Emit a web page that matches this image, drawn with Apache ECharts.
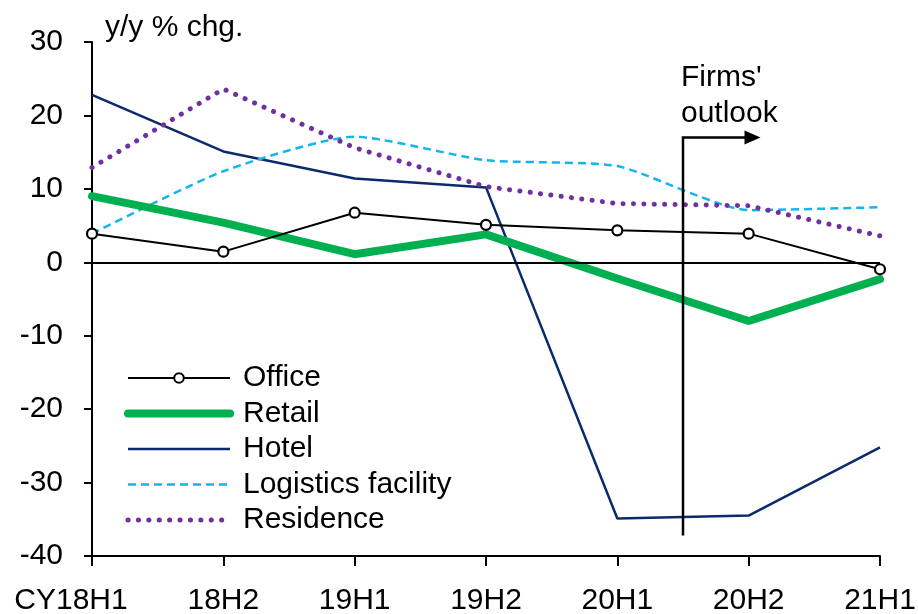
<!DOCTYPE html>
<html lang="en">
<head>
    <meta charset="UTF-8">
    <title>Real estate y/y</title>
    <script src="https://cdn.jsdelivr.net/npm/echarts@6/dist/echarts.min.js"></script>
    <style>
        body{ margin:0; background:#fff; }
        #main{ width:918px; height:614px; }
    </style>
</head>
<body>
<div id="main"></div>
<script type="text/javascript">
    var categories = ['CY18H1', '18H2', '19H1', '19H2', '20H1', '20H2', '21H1'];
    var office    = [3.9, 1.45, 6.75, 5.1, 4.35, 3.9, -0.95];
    var retail    = [9.0, 5.4, 1.1, 3.8, -2.2, -8.0, -2.3];
    var hotel     = [22.8, 15.1, 11.4, 10.2, -34.9, -34.5, -25.2];
    var logistics = [3.9, 12.4, 17.1, 13.9, 13.1, 7.1, 7.5];
    var residence = [12.9, 23.6, 15.6, 10.3, 8.0, 7.7, 3.6];
    var yTicks = [-40, -30, -20, -10, 0, 10, 20, 30];

    var font = 'Liberation Sans, Arial, sans-serif';
    var myChart = echarts.init(document.getElementById('main'));

    var xData = categories.map(function (c, i) {
        // first label sits a bit left of its tick in the original
        if (i === 0) return { value: c, textStyle: { padding: [0, 42, 0, 0] } };
        return c;
    });

    var option = {
        backgroundColor: '#fff',
        animation: false,
        textStyle: { fontFamily: font },
        grid: { left: 92, right: 38, top: 42, bottom: 58, outerBoundsMode: 'none', containLabel: false },
        legend: {
            orient: 'vertical',
            left: 124,
            top: 363,
            padding: 0,
            itemWidth: 102,
            itemHeight: 12,
            itemGap: 5.5,
            textStyle: { fontSize: 30, color: '#000', lineHeight: 30, padding: [0, 0, 0, 8], fontFamily: font },
            data: [
                { name: 'Office', lineStyle: { width: 2 } },
                { name: 'Retail', lineStyle: { width: 8 }, itemStyle: { opacity: 0 } },
                { name: 'Hotel', lineStyle: { width: 2.5 }, itemStyle: { opacity: 0 } },
                { name: 'Logistics facility', lineStyle: { width: 2.5 }, itemStyle: { opacity: 0 } },
                { name: 'Residence', lineStyle: { width: 5 }, itemStyle: { opacity: 0 } }
            ]
        },
        xAxis: {
            type: 'category',
            data: xData,
            boundaryGap: false,
            axisLine: { onZero: false, lineStyle: { color: '#000', width: 2 } },
            axisTick: { show: true, length: 10, interval: 0, lineStyle: { color: '#000', width: 2 } },
            axisLabel: { fontSize: 30, color: '#000', margin: 30, interval: 0, hideOverlap: false, fontFamily: font },
            splitLine: { show: false }
        },
        yAxis: {
            type: 'value',
            min: yTicks[0],
            max: yTicks[yTicks.length - 1],
            interval: 10,
            axisLine: { show: true, lineStyle: { color: '#000', width: 2 } },
            axisTick: { show: true, length: 8, lineStyle: { color: '#000', width: 2 } },
            axisLabel: { fontSize: 30, color: '#000', margin: 29, fontFamily: font },
            splitLine: { show: false }
        },
        series: [
            {
                name: 'Hotel', type: 'line', data: hotel, symbol: 'none',
                itemStyle: { color: '#0b2a6b' },
                lineStyle: { color: '#0b2a6b', width: 2.5 }
            },
            {
                name: 'Logistics facility', type: 'line', data: logistics, symbol: 'none', smooth: 0.2,
                itemStyle: { color: '#14b4ee' },
                lineStyle: { color: '#14b4ee', width: 2.5, type: [8, 5] }
            },
            {
                name: 'Residence', type: 'line', data: residence, symbol: 'none',
                itemStyle: { color: '#7030a0' },
                lineStyle: { color: '#7030a0', width: 5, type: [0.1, 10.3], cap: 'round' }
            },
            {
                name: 'Retail', type: 'line', data: retail, symbol: 'none',
                itemStyle: { color: '#00b050' },
                lineStyle: { color: '#00b050', width: 8, cap: 'round' }
            },
            {
                name: 'Office', type: 'line', data: office,
                symbol: 'circle', symbolSize: 10, showSymbol: true,
                itemStyle: { color: '#fff', borderColor: '#000', borderWidth: 2.2 },
                lineStyle: { color: '#000', width: 2 },
                z: 5,
                markLine: {
                    silent: true, symbol: 'none', label: { show: false },
                    lineStyle: { color: '#000', width: 2, type: 'solid' },
                    data: [{ yAxis: 0 }]
                }
            }
        ]
    };
    myChart.setOption(option);

    // "Firms' outlook" marker between 20H1 and 20H2
    var x4 = myChart.convertToPixel({ xAxisIndex: 0 }, categories[4]);
    var x5 = myChart.convertToPixel({ xAxisIndex: 0 }, categories[5]);
    var mx = (x4 + x5) / 2;
    var arrowX = x5 + (x5 - x4) * 0.09;
    var yTop = myChart.convertToPixel({ yAxisIndex: 0 }, 17);
    var yBottom = myChart.convertToPixel({ yAxisIndex: 0 }, -37.2);

    myChart.setOption({
        graphic: [
            {
                type: 'text', left: 105, top: 13,
                style: { text: 'y/y % chg.', font: '30px ' + font, fill: '#000' }
            },
            {
                type: 'polyline', z: 100,
                shape: { points: [[mx, yBottom], [mx, yTop], [arrowX - 14, yTop]] },
                style: { stroke: '#000', lineWidth: 2.5, fill: null }
            },
            {
                type: 'polygon', z: 100,
                shape: { points: [[arrowX - 16, yTop - 7], [arrowX, yTop], [arrowX - 16, yTop + 7]] },
                style: { fill: '#000' }
            },
            {
                type: 'text', z: 100, x: mx - 2, y: yTop - 78,
                style: { text: "Firms'\noutlook", font: '30px ' + font, lineHeight: 36, fill: '#000' }
            }
        ]
    });
</script>
</body>
</html>
